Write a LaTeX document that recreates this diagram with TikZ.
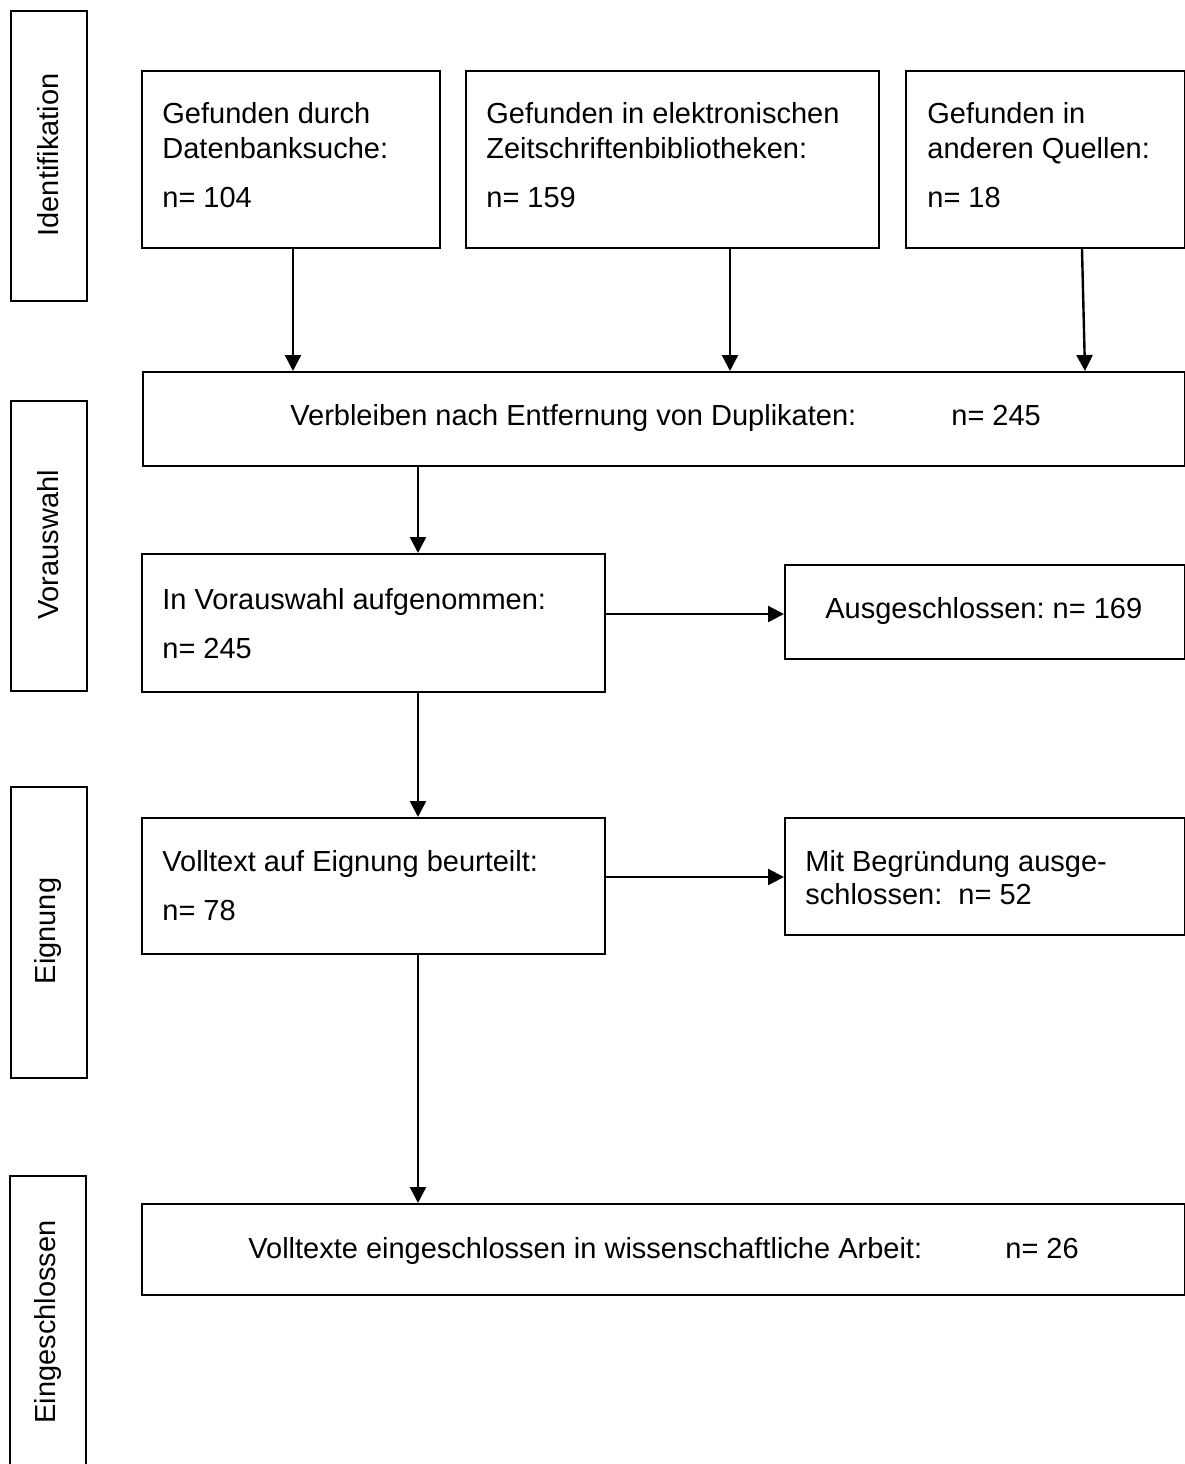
\documentclass[tikz,border=0pt]{standalone}
\usepackage{fontspec}
\setmainfont{Liberation Sans}
\usetikzlibrary{arrows.meta}
\frenchspacing
\begin{document}
\begin{tikzpicture}[x=0.5pt,y=-0.5pt,
  box/.style={draw,line width=1.1pt,inner sep=0pt,anchor=north west},
  txt/.style={inner sep=0pt,anchor=base west,font=\fontsize{14.5}{17.5}\selectfont},
  side/.style={inner sep=0pt,rotate=90,font=\fontsize{14.5}{17.5}\selectfont},
  arr/.style={line width=1.2pt,-{Triangle[length=8pt,width=8pt]}}]
\useasboundingbox (0,0) rectangle (1185,1464);
% side boxes
\node[box,minimum width=38pt,minimum height=145pt] (sI) at (10,10) {};
\node[box,minimum width=38pt,minimum height=145pt] (sV) at (10,400) {};
\node[box,minimum width=38pt,minimum height=145.5pt] (sE) at (10,786) {};
\draw[line width=1.1pt] (10,1480) -- (10,1176) -- (86,1176) -- (86,1480);
\coordinate (sX) at (48,1322);
\node[side] (tI) at (48,155) {Identifikation};
\node[side] (tV) at (48,545) {Vorauswahl};
\node[side] (tE) at (48,931) {Eignung};
\node[side] (tX) at (sX) {Eingeschlossen};
% top boxes
\node[box,minimum width=149pt,minimum height=88.5pt] (b1) at (141,70) {};
\node[box,minimum width=206.5pt,minimum height=88.5pt] (b2) at (465,70) {};
\node[box,minimum width=139.5pt,minimum height=88.5pt] (b3) at (905,70) {};
\node[txt] at (162,123) {Gefunden durch};
\node[txt] at (162,158) {Datenbanksuche:};
\node[txt] at (162,207) {n= 104};
\node[txt] at (486,123) {Gefunden in elektronischen};
\node[txt] at (486,158) {Zeitschriftenbibliotheken:};
\node[txt] at (486,207) {n= 159};
\node[txt] at (927,123) {Gefunden in};
\node[txt] at (927,158) {anderen Quellen:};
\node[txt] at (927,207) {n= 18};
% duplicates
\node[box,minimum width=521pt,minimum height=47pt] (dup) at (142,371) {};
\node[txt] at (290,425) {Verbleiben nach Entfernung von Duplikaten:};
\node[txt] at (951,425) {n= 245};
% Vorauswahl
\node[box,minimum width=231.5pt,minimum height=69pt] (vor) at (141,553) {};
\node[txt] at (162,609) {In Vorauswahl aufgenommen:};
\node[txt] at (162,658) {n= 245};
\node[box,minimum width=200pt,minimum height=47pt] (ex1) at (784,564) {};
\node[txt] at (825,618) {Ausgeschlossen: n= 169};
% Eignung
\node[box,minimum width=231.5pt,minimum height=68pt] (eig) at (141,817) {};
\node[txt] at (162,871) {Volltext auf Eignung beurteilt:};
\node[txt] at (162,920) {n= 78};
\node[box,minimum width=200pt,minimum height=58.5pt] (ex2) at (784,817) {};
\node[txt] at (805,871) {Mit Begründung ausge-};
\node[txt] at (805,904) {schlossen:\ \ n= 52};
% final
\node[box,minimum width=521.5pt,minimum height=45.5pt] (fin) at (141,1203) {};
\node[txt] at (248,1258) {Volltexte eingeschlossen in wissenschaftliche Arbeit:};
\node[txt] at (1005,1258) {n= 26};
% arrows
\draw[arr] (b1.south -| 293,0) -- (dup.north -| 293,0);
\draw[arr] (b2.south -| 730,0) -- (dup.north -| 730,0);
\draw[arr] (b3.south -| 1082,0) -- (dup.north -| 1085,0);
\draw[arr] (dup.south -| 418,0) -- (vor.north -| 418,0);
\draw[arr] (vor.east |- 0,614) -- (ex1.west |- 0,614);
\draw[arr] (vor.south -| 418,0) -- (eig.north -| 418,0);
\draw[arr] (eig.east |- 0,877) -- (ex2.west |- 0,877);
\draw[arr] (eig.south -| 418,0) -- (fin.north -| 418,0);
\end{tikzpicture}
\end{document}
